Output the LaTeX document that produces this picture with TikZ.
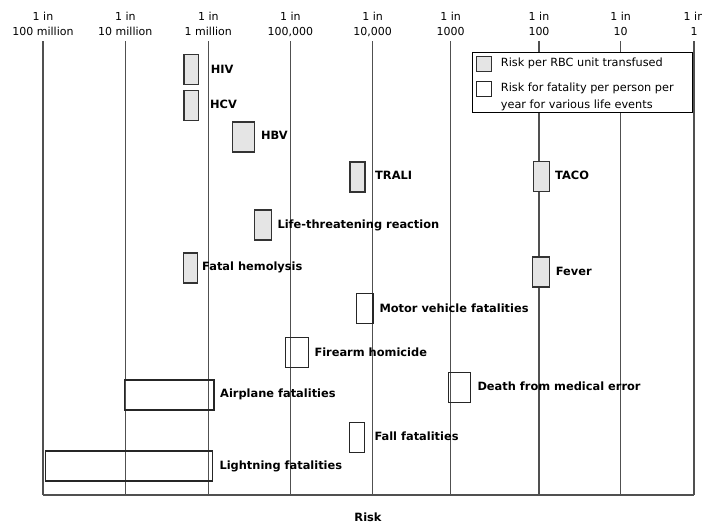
\documentclass[tikz,border=0pt]{standalone}
\usepackage{fontspec}
\setmainfont{DejaVu Sans}
\usetikzlibrary{positioning}
\definecolor{rbcfill}{RGB}{229,229,229}
\definecolor{gridgray}{RGB}{80,80,80}
\tikzset{
  gridline/.style={draw=gridgray, line width=1.3pt},
  rbcbox/.style={draw=black!80, line width=1.4pt, fill=rbcfill, inner sep=0pt, minimum height=30pt},
  lifebox/.style={draw=black!85, line width=1.4pt, inner sep=0pt, minimum height=30pt},
  lbl/.style={anchor=west, inner sep=0pt, font=\fontsize{11.4}{13}\selectfont\bfseries, text height=8.3pt, text depth=0pt},
  ticklbl/.style={align=center, inner sep=0pt, font=\fontsize{11}{15}\selectfont},
  keytext/.style={anchor=west, align=left, inner sep=0pt, font=\fontsize{11.3}{16.7}\selectfont}
}
\begin{document}
\begin{tikzpicture}[x=1pt, y=-1pt]
    \useasboundingbox (0,0) rectangle (702,525);

    % risk scale
    \foreach \x/\t [count=\i] in {43/100 million, 125.3/10 million, 208.3/1 million, 290.3/100{,}000, 372.7/10{,}000, 450.7/1000, 539/100, 620.7/10, 694/1} {
        \draw[gridline] (\x,41) -- (\x,495);
        \node[ticklbl] (tick\i) at (\x,24) {1 in\\\t};
    }
    \draw[gridline] (43,495) -- (694,495);
    \node[font=\fontsize{11.4}{13}\selectfont\bfseries] (risk) at (368,517) {Risk};

    % legend
    \node[draw=black, line width=1pt, fill=white, minimum width=220pt, minimum height=60.4pt, inner sep=0pt] (legend) at (582.3,82.5) {};
    \node[rbcbox, line width=1.1pt, minimum width=15pt, minimum height=15pt] (keyrbc) at (484.2,64.2) {};
    \node[lifebox, line width=1.1pt, minimum width=15pt, minimum height=15pt] (keylife) at (484.2,89.2) {};
    \node[keytext] (keyrbctext) at (500.7,63.3) {Risk per RBC unit transfused};
    \node[keytext] (keylifetext) at (500.7,96.6) {Risk for fatality per person per\\year for various life events};

    % risk per RBC unit
    \node[rbcbox, minimum width=14.3pt] (hiv) at (191.2,69.7) {};
    \node[lbl] (hivlbl) at (210.7,69) {HIV};
    \node[rbcbox, minimum width=14.3pt] (hcv) at (191.2,105.3) {};
    \node[lbl] (hcvlbl) at (210,104.3) {HCV};
    \node[rbcbox, minimum width=22.4pt] (hbv) at (243.5,137) {};
    \node[lbl] (hbvlbl) at (261,135.7) {HBV};
    \node[rbcbox, minimum width=15pt] (trali) at (357.5,176.8) {};
    \node[lbl] (tralilbl) at (375,175.7) {TRALI};
    \node[rbcbox, minimum width=16pt] (taco) at (541.3,176.7) {};
    \node[lbl] (tacolbl) at (555,175.3) {TACO};
    \node[rbcbox, minimum width=17.4pt] (reaction) at (263,224.8) {};
    \node[lbl] (reactionlbl) at (277.3,224) {Life-threatening reaction};
    \node[rbcbox, minimum width=14pt] (hemolysis) at (190.3,267.8) {};
    \node[lbl] (hemolysislbl) at (202,266.7) {Fatal hemolysis};
    \node[rbcbox, minimum width=17.4pt] (fever) at (541,272) {};
    \node[lbl] (feverlbl) at (555.7,271) {Fever};

    % risk for fatality per person per year
    \node[lifebox, minimum width=16.7pt] (motor) at (364.7,308.7) {};
    \node[lbl] (motorlbl) at (379.3,308) {Motor vehicle fatalities};
    \node[lifebox, minimum width=22.6pt] (firearm) at (297,352.7) {};
    \node[lbl] (firearmlbl) at (314.3,352) {Firearm homicide};
    \node[lifebox, minimum width=22.4pt] (medical) at (459.5,387.5) {};
    \node[lbl] (medicallbl) at (477.3,386.7) {Death from medical error};
    \node[lifebox, minimum width=89.7pt] (airplane) at (169.2,394.8) {};
    \node[lbl] (airplanelbl) at (220,393.3) {Airplane fatalities};
    \node[lifebox, minimum width=15.4pt] (fall) at (357,437.5) {};
    \node[lbl] (falllbl) at (374.3,436.7) {Fall fatalities};
    \node[lifebox, minimum width=167pt] (lightning) at (129.2,466) {};
    \node[lbl] (lightninglbl) at (219.3,465) {Lightning fatalities};
\end{tikzpicture}
\end{document}
